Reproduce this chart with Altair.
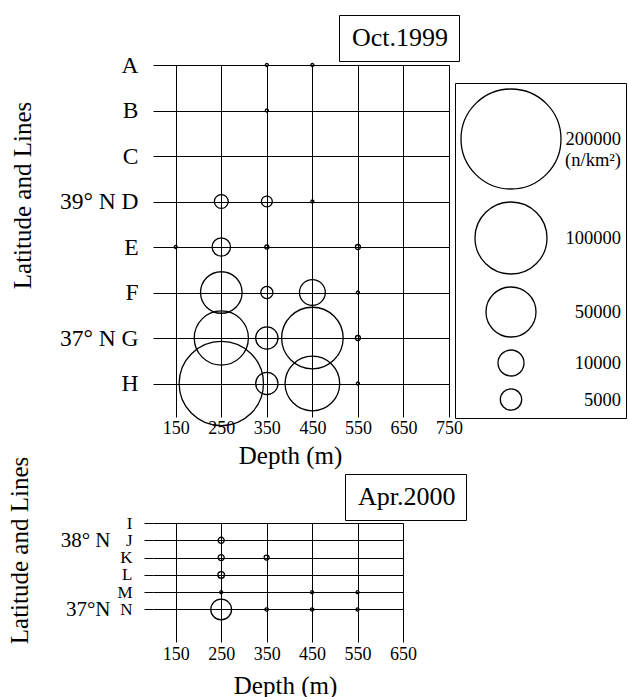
import altair as alt
import pandas as pd

SERIF = "Liberation Serif"

# ---------------- data ----------------
lines_top = ["A", "B", "C", "D", "E", "F", "G", "H"]
lat_top = {"D": "39° N", "G": "37° N"}
oct_line = ["A", "A", "B", "D", "D", "D", "E", "E", "E", "E", "F", "F", "F", "F",
            "G", "G", "G", "G", "H", "H", "H", "H"]
oct_depth = [350, 450, 350, 250, 350, 450, 150, 250, 350, 550, 250, 350, 450, 550,
             250, 350, 450, 550, 250, 350, 450, 550]
oct_value = [100, 100, 100, 2100, 1300, 100, 100, 3700, 180, 270, 33000, 1600, 9800, 100,
             58000, 5900, 74000, 270, 140000, 5900, 59000, 100]

lines_bot = ["I", "J", "K", "L", "M", "N"]
lat_bot = {"J": "38° N", "N": "37°N"}
apr_line = ["J", "K", "K", "L", "M", "M", "M", "N", "N", "N", "N"]
apr_depth = [250, 250, 350, 250, 250, 450, 550, 250, 350, 450, 550]
apr_value = [400, 400, 270, 470, 100, 100, 100, 4700, 120, 120, 100]

ticks_top = [150, 250, 350, 450, 550, 650, 750]
ticks_bot = [150, 250, 350, 450, 550, 650]
legend_values = [200000, 100000, 50000, 10000, 5000]
legend_unit = "(n/km²)"
size_domain = [0, 5000, 10000, 50000, 100000, 200000]
size_range = [0, 458, 676, 2500, 5184, 10000]

oct_df = pd.DataFrame({"line": oct_line, "depth": oct_depth, "value": oct_value})
apr_df = pd.DataFrame({"line": apr_line, "depth": apr_depth, "value": apr_value})

size_scale = alt.Scale(type="linear", domain=size_domain, range=size_range)


def expr_map(mapping, join_letter):
    parts = []
    for k, v in mapping.items():
        txt = f"{v} {k}" if join_letter else v
        parts.append(f"datum.value == '{k}' ? '{txt}' : ")
    return "".join(parts) + ("datum.label" if join_letter else "''")


def title_legend(label, lx, ly):
    return alt.Chart(pd.DataFrame({"period": [label]})).mark_point(opacity=0).encode(
        color=alt.Color("period:N", scale=alt.Scale(range=["black"]),
                        legend=alt.Legend(title=None, orient="none", legendX=lx, legendY=ly,
                                          strokeColor="black", fillColor="white", padding=10,
                                          labelFontSize=26, labelFont=SERIF, labelColor="black",
                                          symbolSize=0, symbolOpacity=0, symbolStrokeWidth=0,
                                          labelOffset={"expr": "-23"}, labelLimit=300))
    )


# ---------------- top panel ----------------
top_bubbles = alt.Chart(oct_df).mark_point(shape="circle", filled=False, color="black",
                                           strokeWidth=1.3, opacity=1).encode(
    x=alt.X("depth:Q", scale=alt.Scale(domain=[100, 750], nice=False, zero=False),
            axis=alt.Axis(values=ticks_top, grid=True, ticks=False, domain=False,
                          labelFlush=False, labelPadding=2, labelFontSize=18,
                          title="Depth (m)", titleFontSize=25, titlePadding=6, titleX=137)),
    y=alt.Y("line:N", scale=alt.Scale(type="point", domain=lines_top, padding=0.368, align=0),
            axis=alt.Axis(grid=True, ticks=False, domain=False, labelPadding=15,
                          labelFontSize=23.5, labelExpr=expr_map(lat_top, True),
                          title="Latitude and Lines", titleFontSize=25,
                          titleX=-131, titleY=130, titleAlign="center", titleBaseline="middle")),
    size=alt.Size("value:Q", scale=size_scale,
                  legend=alt.Legend(values=legend_values, orient="none", legendX=302, legendY=18,
                                    title=None, strokeColor="black", fillColor="white",
                                    padding=5, rowPadding=7, direction="vertical",
                                    labelFont=SERIF, labelFontSize=18.5, labelColor="black",
                                    labelAlign="right", labelOffset=59, format="d",
                                    labelExpr=f"datum.value == {legend_values[0]} ? ['{legend_values[0]}', '{legend_unit}'] : datum.label",
                                    symbolType="circle", symbolStrokeColor="black",
                                    symbolFillColor="transparent", symbolStrokeWidth=1.3)),
)

top = alt.layer(top_bubbles, title_legend("Oct.1999", 186, -50)).properties(width=296, height=352)

# ---------------- bottom panel ----------------
bot_bubbles = alt.Chart(apr_df).mark_point(shape="circle", filled=False, color="black",
                                           strokeWidth=1.3, opacity=1).encode(
    x=alt.X("depth:Q", scale=alt.Scale(domain=[100, 650], nice=False, zero=False),
            axis=alt.Axis(values=ticks_bot, grid=True, ticks=False, domain=False,
                          labelFlush=False, labelPadding=3, labelFontSize=18,
                          title="Depth (m)", titleFontSize=25, titlePadding=10, titleX=132)),
    y=alt.Y("line:N", scale=alt.Scale(type="point", domain=lines_bot, padding=0.94, align=0),
            axis=alt.Axis(grid=True, ticks=True, tickSize=9, tickColor="black", domain=False,
                          labelPadding=12, labelFontSize=17,
                          title="Latitude and Lines", titleFontSize=25,
                          titleX=-134, titleY=27, titleAlign="center", titleBaseline="middle")),
    size=alt.Size("value:Q", scale=size_scale, legend=None),
)

bot_lat = alt.Chart(pd.DataFrame({"line": lines_bot})).mark_point(opacity=0).encode(
    y=alt.Y("line:N", axis=alt.Axis(orient="left", grid=False, ticks=False, domain=False,
                                     values=list(lat_bot.keys()), labelPadding=43,
                                     labelFontSize=21, labelExpr=expr_map(lat_bot, False),
                                     title=None))
)

bottom = alt.layer(bot_bubbles, bot_lat, title_legend("Apr.2000", 192, -49)).resolve_axis(
    y="independent").properties(width=250, height=119)

chart = alt.vconcat(top, bottom, spacing=106, bounds="flush").resolve_scale(
    color="independent", size="independent"
).properties(
    autosize=alt.AutoSizeParams(type="none"),
    padding={"left": 153, "top": 65, "right": 476, "bottom": 632},
).configure_axis(
    labelFont=SERIF, titleFont=SERIF, labelColor="black", titleColor="black",
    gridColor="black", gridOpacity=1, gridWidth=1, titleFontWeight="normal",
).configure_legend(labelFont=SERIF, labelColor="black").configure_view(stroke=None)

chart.save("out.html", embed_options={"renderer": "svg", "actions": False})
